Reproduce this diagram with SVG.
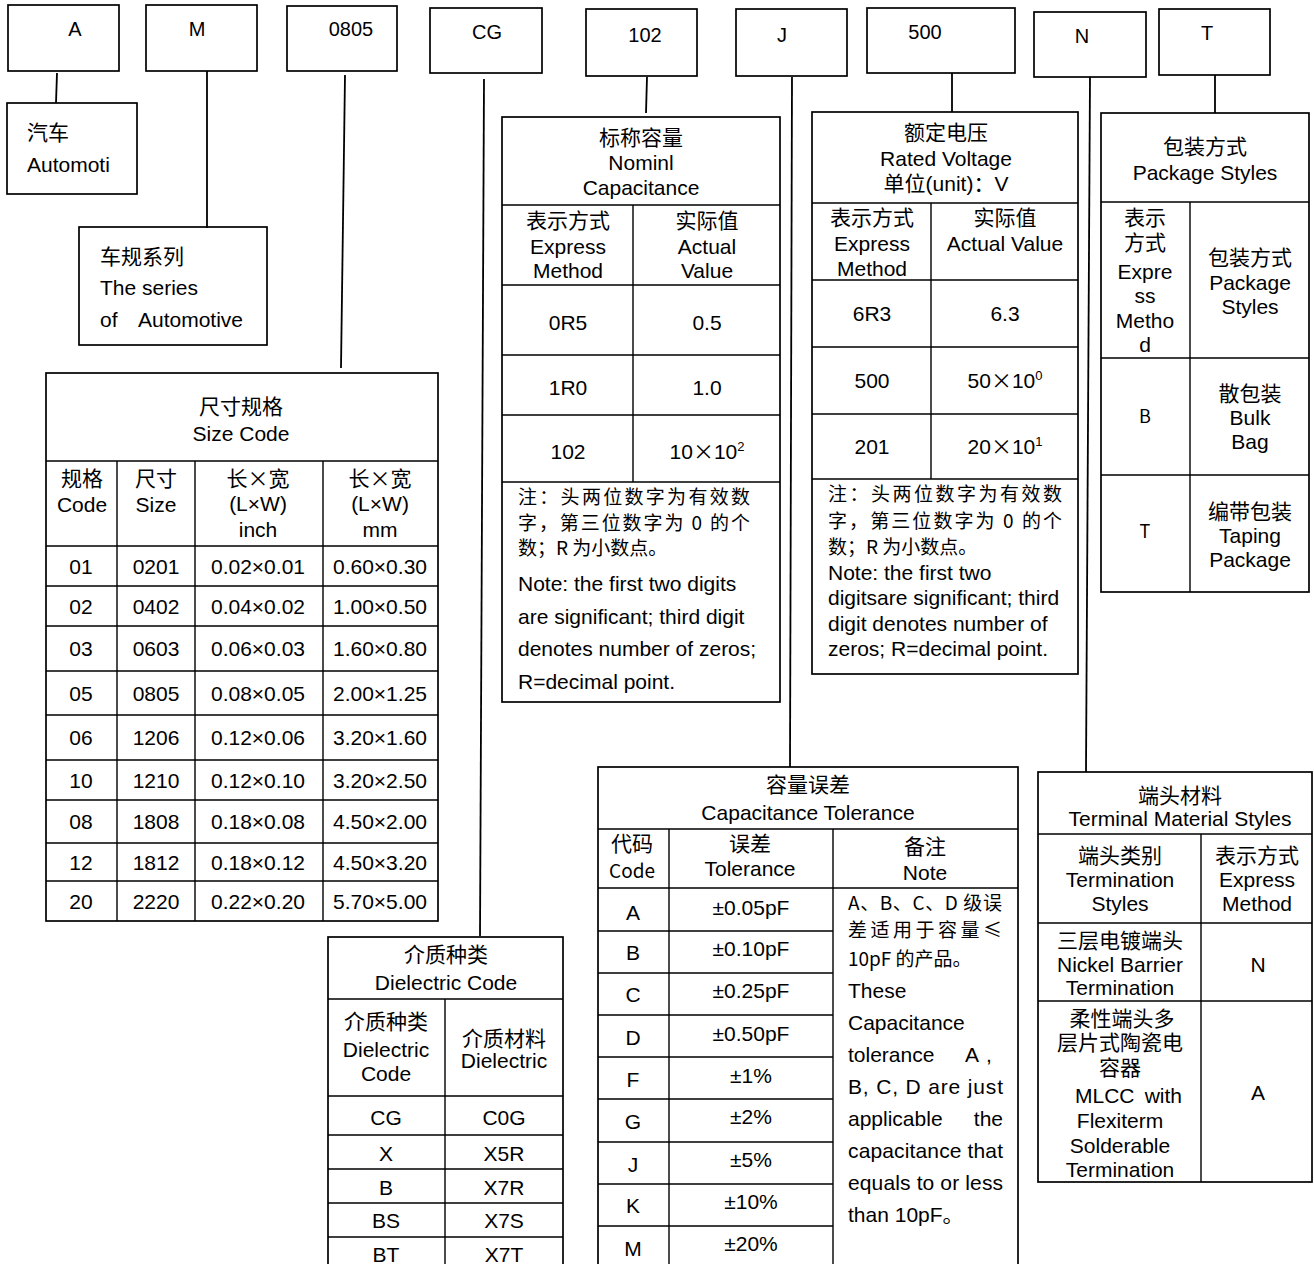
<svg xmlns="http://www.w3.org/2000/svg" width="1314" height="1264" viewBox="0 0 1314 1264">
<style>
.b{fill:none;stroke:#000;stroke-width:1.7}
.l{stroke:#000;stroke-width:1.4;fill:none}
.k{stroke:#000;stroke-width:1.8;fill:none}
text{font-family:"Liberation Sans","Noto Sans CJK SC",sans-serif;font-size:21px;fill:#000}
.m{text-anchor:middle}
.e{text-anchor:end}
.cj{font-family:"Noto Sans CJK SC",sans-serif}
.n{font-family:"Noto Sans CJK SC",sans-serif;font-size:19px}
.h{font-size:20px}
.s{font-size:13px}
.sm{font-family:"Noto Sans CJK SC",sans-serif;font-size:18px}
</style>
<rect width="1314" height="1264" fill="#fff"/>
<g id="connectors">
<path class="k" d="M57,73 L56,103"/>
<path class="k" d="M207,71 L207,228"/>
<path class="k" d="M345,75 L341,368"/>
<path class="k" d="M484,79 L480,936"/>
<path class="k" d="M647,77 L646,113"/>
<path class="k" d="M792,77 L790,767"/>
<path class="k" d="M952,73 L952,112"/>
<path class="k" d="M1090,77 L1086,772"/>
<path class="k" d="M1215,75 L1215,113"/>
</g>
<g id="box-A"><rect class="b" x="8" y="5" width="111" height="66"/><text class="m h" x="75" y="36">A</text></g>
<g id="box-M"><rect class="b" x="146" y="5" width="111" height="66"/><text class="m h" x="197" y="36">M</text></g>
<g id="box-0805"><rect class="b" x="287" y="6" width="110" height="65"/><text class="m h" x="351" y="36">0805</text></g>
<g id="box-CG"><rect class="b" x="430" y="8" width="112" height="65"/><text class="m h" x="487" y="39">CG</text></g>
<g id="box-102"><rect class="b" x="586" y="9" width="111" height="67"/><text class="m h" x="645" y="42">102</text></g>
<g id="box-J"><rect class="b" x="736" y="9" width="111" height="67"/><text class="m h" x="782" y="42">J</text></g>
<g id="box-500"><rect class="b" x="867" y="8" width="148" height="65"/><text class="m h" x="925" y="39">500</text></g>
<g id="box-N"><rect class="b" x="1034" y="12" width="112" height="65"/><text class="m h" x="1082" y="43">N</text></g>
<g id="box-T"><rect class="b" x="1159" y="9" width="111" height="66"/><text class="m h" x="1207" y="40">T</text></g>

<g id="automotive"><rect class="b" x="7" y="103" width="130" height="91"/>
<text x="27" y="140">汽车</text><text x="27" y="172">Automoti</text></g>

<g id="series"><rect class="b" x="79" y="227" width="188" height="118"/>
<text x="100" y="264">车规系列</text><text x="100" y="295">The series</text>
<text x="100" y="327">of</text><text x="138" y="327">Automotive</text></g>

<g id="size-code">
<rect class="b" x="46" y="373" width="392" height="548"/>
<path class="l" d="M46,461H438M46,546H438M46,586H438M46,626H438M46,671H438M46,715H438M46,760H438M46,800H438M46,843H438M46,881H438M117,461V921M195,461V921M323,461V921"/>
<text class="m" x="241" y="414">尺寸规格</text>
<text class="m" x="241" y="441">Size Code</text>
<text class="m" x="82" y="486">规格</text><text class="m" x="82" y="512">Code</text>
<text class="m" x="156" y="486">尺寸</text><text class="m" x="156" y="512">Size</text>
<text class="m" x="258" y="486">长<tspan class="cj">×</tspan>宽</text><text class="m" x="258" y="511">(L×W)</text><text class="m" x="258" y="537">inch</text>
<text class="m" x="380" y="486">长<tspan class="cj">×</tspan>宽</text><text class="m" x="380" y="511">(L×W)</text><text class="m" x="380" y="537">mm</text>
<text class="m" x="81" y="574">01</text><text class="m" x="156" y="574">0201</text><text class="m" x="258" y="574">0.02×0.01</text><text class="m" x="380" y="574">0.60×0.30</text>
<text class="m" x="81" y="614">02</text><text class="m" x="156" y="614">0402</text><text class="m" x="258" y="614">0.04×0.02</text><text class="m" x="380" y="614">1.00×0.50</text>
<text class="m" x="81" y="656">03</text><text class="m" x="156" y="656">0603</text><text class="m" x="258" y="656">0.06×0.03</text><text class="m" x="380" y="656">1.60×0.80</text>
<text class="m" x="81" y="701">05</text><text class="m" x="156" y="701">0805</text><text class="m" x="258" y="701">0.08×0.05</text><text class="m" x="380" y="701">2.00×1.25</text>
<text class="m" x="81" y="745">06</text><text class="m" x="156" y="745">1206</text><text class="m" x="258" y="745">0.12×0.06</text><text class="m" x="380" y="745">3.20×1.60</text>
<text class="m" x="81" y="788">10</text><text class="m" x="156" y="788">1210</text><text class="m" x="258" y="788">0.12×0.10</text><text class="m" x="380" y="788">3.20×2.50</text>
<text class="m" x="81" y="829">08</text><text class="m" x="156" y="829">1808</text><text class="m" x="258" y="829">0.18×0.08</text><text class="m" x="380" y="829">4.50×2.00</text>
<text class="m" x="81" y="870">12</text><text class="m" x="156" y="870">1812</text><text class="m" x="258" y="870">0.18×0.12</text><text class="m" x="380" y="870">4.50×3.20</text>
<text class="m" x="81" y="909">20</text><text class="m" x="156" y="909">2220</text><text class="m" x="258" y="909">0.22×0.20</text><text class="m" x="380" y="909">5.70×5.00</text>
</g>

<g id="nominal-capacitance">
<rect class="b" x="502" y="117" width="278" height="585"/>
<path class="l" d="M502,205H780M502,285H780M502,355H780M502,415H780M502,482H780M633,205V482"/>
<text class="m" x="641" y="145">标称容量</text>
<text class="m" x="641" y="170">Nominl</text>
<text class="m" x="641" y="195">Capacitance</text>
<text class="m" x="568" y="228">表示方式</text><text class="m" x="568" y="254">Express</text><text class="m" x="568" y="278">Method</text>
<text class="m" x="707" y="228">实际值</text><text class="m" x="707" y="254">Actual</text><text class="m" x="707" y="278">Value</text>
<text class="m" x="568" y="330">0R5</text><text class="m" x="707" y="330">0.5</text>
<text class="m" x="568" y="395">1R0</text><text class="m" x="707" y="395">1.0</text>
<text class="m" x="568" y="459">102</text><text class="m" x="707" y="459">10<tspan class="cj">×</tspan>10<tspan class="s" dy="-8">2</tspan></text>
<text class="n" x="518" y="504" textLength="232">注：头两位数字为有效数</text>
<text class="n" x="518" y="530" textLength="232">字，第三位数字为 0 的个</text>
<text class="n" x="518" y="555">数；R 为小数点。</text>
<text x="518" y="591">Note: the first two digits</text>
<text x="518" y="624">are significant; third digit</text>
<text x="518" y="656">denotes number of zeros;</text>
<text x="518" y="689">R=decimal point.</text>
</g>

<g id="rated-voltage">
<rect class="b" x="812" y="112" width="266" height="562"/>
<path class="l" d="M812,203H1078M812,280H1078M812,347H1078M812,414H1078M812,479H1078M931,203V479"/>
<text class="m" x="946" y="140">额定电压</text>
<text class="m" x="946" y="166">Rated Voltage</text>
<text class="m" x="946" y="191">单位(unit)：V</text>
<text class="m" x="872" y="225">表示方式</text><text class="m" x="872" y="251">Express</text><text class="m" x="872" y="276">Method</text>
<text class="m" x="1005" y="225">实际值</text><text class="m" x="1005" y="251">Actual Value</text>
<text class="m" x="872" y="321">6R3</text><text class="m" x="1005" y="321">6.3</text>
<text class="m" x="872" y="388">500</text><text class="m" x="1005" y="388">50<tspan class="cj">×</tspan>10<tspan class="s" dy="-8">0</tspan></text>
<text class="m" x="872" y="454">201</text><text class="m" x="1005" y="454">20<tspan class="cj">×</tspan>10<tspan class="s" dy="-8">1</tspan></text>
<text class="n" x="828" y="501" textLength="234">注：头两位数字为有效数</text>
<text class="n" x="828" y="528" textLength="234">字，第三位数字为 0 的个</text>
<text class="n" x="828" y="554">数；R 为小数点。</text>
<text x="828" y="580">Note: the first two</text>
<text x="828" y="605">digitsare significant; third</text>
<text x="828" y="631">digit denotes number of</text>
<text x="828" y="656">zeros; R=decimal point.</text>
</g>

<g id="package-styles">
<rect class="b" x="1101" y="113" width="208" height="479"/>
<path class="l" d="M1101,202H1309M1101,358H1309M1101,475H1309M1190,202V592"/>
<text class="m" x="1205" y="154">包装方式</text>
<text class="m" x="1205" y="180">Package Styles</text>
<text class="m" x="1145" y="225">表示</text>
<text class="m" x="1145" y="250">方式</text>
<text class="m" x="1145" y="279">Expre</text>
<text class="m" x="1145" y="303">ss</text>
<text class="m" x="1145" y="328">Metho</text>
<text class="m" x="1145" y="352">d</text>
<text class="m" x="1250" y="265">包装方式</text>
<text class="m" x="1250" y="290">Package</text>
<text class="m" x="1250" y="314">Styles</text>
<text class="m sm" x="1145" y="423">B</text>
<text class="m" x="1250" y="401">散包装</text>
<text class="m" x="1250" y="425">Bulk</text>
<text class="m" x="1250" y="449">Bag</text>
<text class="m sm" x="1145" y="538">T</text>
<text class="m" x="1250" y="519">编带包装</text>
<text class="m" x="1250" y="543">Taping</text>
<text class="m" x="1250" y="567">Package</text>
</g>

<g id="dielectric-code">
<rect class="b" x="328" y="937" width="235" height="340"/>
<path class="l" d="M328,999H563M328,1096H563M328,1135H563M328,1169H563M328,1203H563M328,1237H563M445,999V1270"/>
<text class="m" x="446" y="962">介质种类</text>
<text class="m" x="446" y="990">Dielectric Code</text>
<text class="m" x="386" y="1029">介质种类</text><text class="m" x="386" y="1057">Dielectric</text><text class="m" x="386" y="1081">Code</text>
<text class="m" x="504" y="1046">介质材料</text><text class="m" x="504" y="1068">Dielectric</text>
<text class="m" x="386" y="1125">CG</text><text class="m" x="504" y="1125">C0G</text>
<text class="m" x="386" y="1161">X</text><text class="m" x="504" y="1161">X5R</text>
<text class="m" x="386" y="1195">B</text><text class="m" x="504" y="1195">X7R</text>
<text class="m" x="386" y="1228">BS</text><text class="m" x="504" y="1228">X7S</text>
<text class="m" x="386" y="1262">BT</text><text class="m" x="504" y="1262">X7T</text>
</g>

<g id="capacitance-tolerance">
<rect class="b" x="598" y="767" width="420" height="510"/>
<path class="l" d="M598,829H1018M598,888H1018M598,931H833M598,973H833M598,1015H833M598,1057H833M598,1099H833M598,1142H833M598,1184H833M598,1226H833M669,829V1270M833,829V1270"/>
<text class="m" x="808" y="792">容量误差</text>
<text class="m" x="808" y="820">Capacitance Tolerance</text>
<text class="m" x="632" y="851">代码</text><text class="m n" x="632" y="878">Code</text>
<text class="m" x="750" y="851">误差</text><text class="m" x="750" y="876">Tolerance</text>
<text class="m" x="925" y="854">备注</text><text class="m" x="925" y="880">Note</text>
<text class="m" x="633" y="920">A</text><text class="m" x="751" y="915">±0.05pF</text>
<text class="m" x="633" y="960">B</text><text class="m" x="751" y="956">±0.10pF</text>
<text class="m" x="633" y="1002">C</text><text class="m" x="751" y="998">±0.25pF</text>
<text class="m" x="633" y="1045">D</text><text class="m" x="751" y="1041">±0.50pF</text>
<text class="m" x="633" y="1087">F</text><text class="m" x="751" y="1083">±1%</text>
<text class="m" x="633" y="1129">G</text><text class="m" x="751" y="1124">±2%</text>
<text class="m" x="633" y="1172">J</text><text class="m" x="751" y="1167">±5%</text>
<text class="m" x="633" y="1213">K</text><text class="m" x="751" y="1209">±10%</text>
<text class="m" x="633" y="1256">M</text><text class="m" x="751" y="1251">±20%</text>
<text class="n" x="848" y="910" textLength="154">A、B、C、D 级误</text>
<text class="n" x="848" y="937" textLength="154">差适用于容量≤</text>
<text class="n" x="848" y="966">10pF 的产品。</text>
<text x="848" y="998">These</text>
<text x="848" y="1030">Capacitance</text>
<text x="848" y="1062">tolerance</text><text x="965" y="1062">A</text><text x="986" y="1062">,</text>
<text x="848" y="1094" textLength="155">B, C, D are just</text>
<text x="848" y="1126">applicable</text><text class="e" x="1003" y="1126">the</text>
<text x="848" y="1158" textLength="155">capacitance that</text>
<text x="848" y="1190" textLength="155">equals to or less</text>
<text x="848" y="1222">than 10pF<tspan class="cj">。</tspan></text>
</g>

<g id="terminal-material">
<rect class="b" x="1038" y="772" width="274" height="410"/>
<path class="l" d="M1038,834H1312M1038,923H1312M1038,1001H1312M1201,834V1182"/>
<text class="m" x="1180" y="803">端头材料</text>
<text class="m" x="1180" y="826">Terminal Material Styles</text>
<text class="m" x="1120" y="863">端头类别</text><text class="m" x="1120" y="887">Termination</text><text class="m" x="1120" y="911">Styles</text>
<text class="m" x="1257" y="863">表示方式</text><text class="m" x="1257" y="887">Express</text><text class="m" x="1257" y="911">Method</text>
<text class="m" x="1120" y="948">三层电镀端头</text><text class="m" x="1120" y="972">Nickel Barrier</text><text class="m" x="1120" y="995">Termination</text>
<text class="m" x="1258" y="972">N</text>
<text class="m" x="1122" y="1026">柔性端头多</text>
<text class="m" x="1120" y="1050">层片式陶瓷电</text>
<text class="m" x="1120" y="1075">容器</text>
<text x="1075" y="1103">MLCC</text><text class="e" x="1182" y="1103">with</text>
<text class="m" x="1120" y="1128">Flexiterm</text>
<text class="m" x="1120" y="1153">Solderable</text>
<text class="m" x="1120" y="1177">Termination</text>
<text class="m" x="1258" y="1100">A</text>
</g>
</svg>
